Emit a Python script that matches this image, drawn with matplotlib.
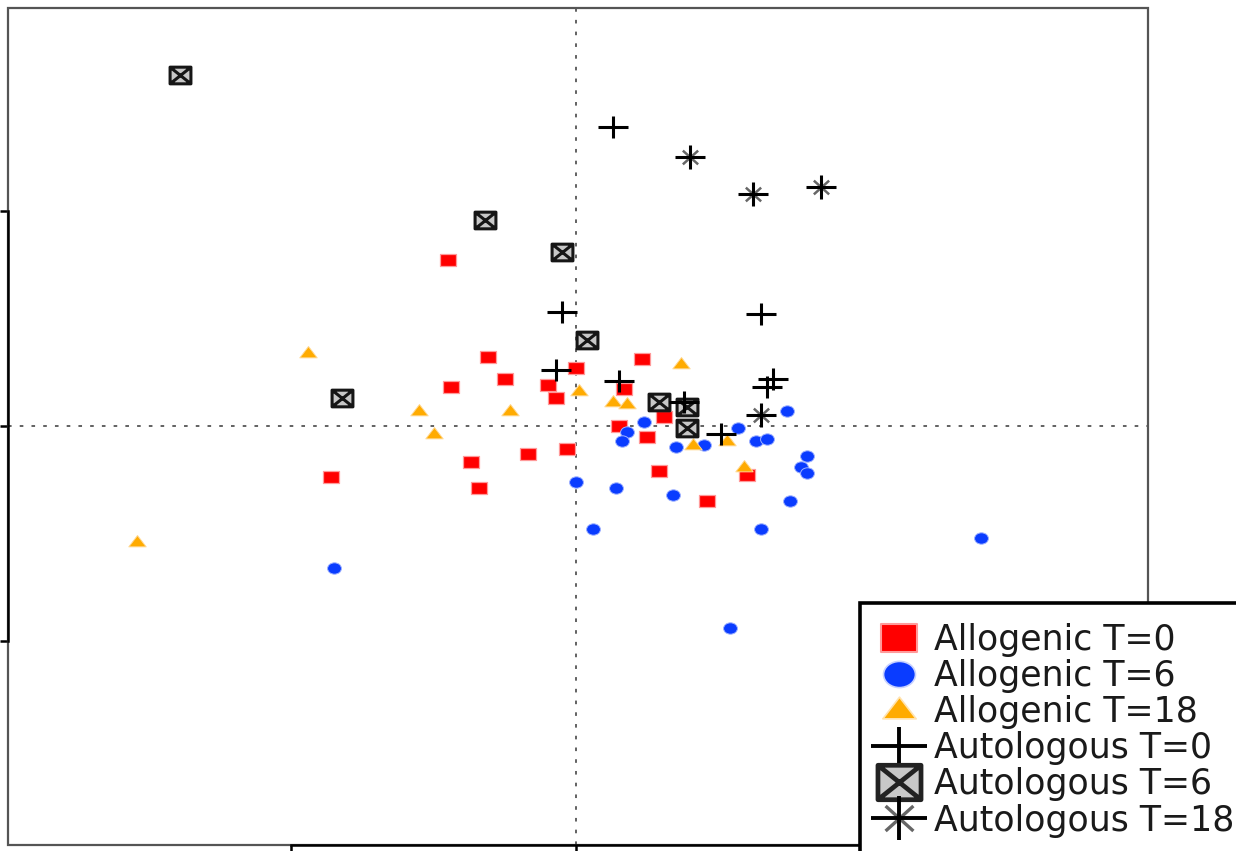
import matplotlib
matplotlib.use('Agg')
import matplotlib.pyplot as plt
from matplotlib.path import Path
from matplotlib.lines import Line2D
from matplotlib.patches import Rectangle
from matplotlib.transforms import Affine2D
from matplotlib.legend_handler import HandlerTuple

plt.rcParams['font.family'] = ['DejaVu Sans']

# ordination scores, axis 1 / axis 2
allo_t0_x = [-0.45, -0.31, -0.44, -0.25, -0.10, -0.07, -0.00, 0.23, 0.17, 0.31,
             0.25, 0.15, -0.03, -0.17, -0.37, -0.34, -0.86, 0.29, 0.60, 0.46]
allo_t0_y = [0.77, 0.32, 0.18, 0.22, 0.19, 0.13, 0.27, 0.31, 0.17, 0.04,
             -0.05, 0.00, -0.11, -0.13, -0.17, -0.29, -0.24, -0.21, -0.23, -0.35]

allo_t6_x = [0.24, 0.18, 0.16, 0.35, 0.45, 0.57, 0.63, 0.67, 0.74, 0.81, 0.79,
             0.81, -0.00, 0.14, 0.34, 0.75, 0.65, 0.06, -0.85, 0.54, 1.42]
allo_t6_y = [0.02, -0.03, -0.07, -0.10, -0.09, -0.01, -0.07, -0.06, 0.07, -0.14, -0.19,
             -0.22, -0.26, -0.29, -0.32, -0.35, -0.48, -0.48, -0.66, -0.94, -0.52]

allo_t18_x = [-0.94, -0.55, -0.50, -0.23, 0.01, 0.13, 0.18, 0.37, 0.41, 0.53, 0.59, -1.54]
allo_t18_y = [0.34, 0.07, -0.04, 0.07, 0.16, 0.11, 0.10, 0.29, -0.09, -0.07, -0.19, -0.54]

auto_t0_x = [0.13, -0.05, 0.65, -0.07, 0.15, 0.38, 0.51, 0.69, 0.67]
auto_t0_y = [1.39, 0.53, 0.52, 0.26, 0.21, 0.11, -0.04, 0.22, 0.18]

auto_t6_x = [-1.39, -0.32, -0.05, 0.04, -0.82, 0.29, 0.39, 0.39]
auto_t6_y = [1.63, 0.96, 0.81, 0.40, 0.13, 0.11, 0.09, -0.01]

auto_t18_x = [0.40, 0.62, 0.86, 0.65]
auto_t18_y = [1.25, 1.08, 1.11, 0.05]

labels = ['Allogenic T=0', 'Allogenic T=6', 'Allogenic T=18',
          'Autologous T=0', 'Autologous T=6', 'Autologous T=18']

# marker shapes (slightly wider than tall)
M = Path.MOVETO
L = Path.LINETO
C = Path.CLOSEPOLY
rect = Path([(-1, -0.8), (1, -0.8), (1, 0.8), (-1, 0.8), (-1, -0.8)], [M, L, L, L, C])
ellipse = Path.unit_circle().transformed(Affine2D().scale(1, 0.82))
tri = Path([(-1, -0.5), (1, -0.5), (0, 0.8), (-1, -0.5)], [M, L, L, C])
plus = Path([(-1, 0), (1, 0), (0, -0.7), (0, 0.7)], [M, L, M, L])
boxx = Path([(-1, -0.8), (1, -0.8), (1, 0.8), (-1, 0.8), (-1, -0.8),
             (-1, -0.8), (1, 0.8), (-1, 0.8), (1, -0.8)],
            [M, L, L, L, C, M, L, M, L])
star_main = Path([(-1, 0), (1, 0), (0, -0.8), (0, 0.8)], [M, L, M, L])
star_diag = Path([(-0.5, -0.45), (0.5, 0.45), (-0.5, 0.45), (0.5, -0.45),
                  (-1, 0), (-1, 0)], [M, L, M, L, M, L])

red = '#ff0000'
blue = '#0a3cff'
orange = '#ffab00'

fig = plt.figure(figsize=(12.36, 8.51), dpi=100)
ax = fig.add_axes([8 / 1236, 6 / 851, 1140 / 1236, 837 / 851])

ax.axhline(0, color='#555555', lw=1.3, dashes=(2, 4.5), zorder=1)
ax.axvline(0, color='#555555', lw=1.3, dashes=(2, 4.5), zorder=1)

ax.plot(allo_t0_x, allo_t0_y, ls='none', marker=rect, ms=11,
        mfc=red, mec='#ff9a9a', mew=0.9, zorder=3)
ax.plot(allo_t6_x, allo_t6_y, ls='none', marker=ellipse, ms=10,
        mfc=blue, mec='#9fb2ff', mew=0.7, zorder=3)
ax.plot(allo_t18_x, allo_t18_y, ls='none', marker=tri, ms=12.5,
        mfc=orange, mec='#ffd890', mew=0.7, zorder=3)
ax.plot(auto_t6_x, auto_t6_y, ls='none', marker=boxx, ms=15,
        mfc='#c8c8c8', mec='#161616', mew=2.2, zorder=4)
ax.plot(auto_t0_x, auto_t0_y, ls='none', marker=plus, ms=22,
        mec='black', mew=2.2, zorder=5)
ax.plot(auto_t18_x, auto_t18_y, ls='none', marker=star_diag, ms=22,
        mec='#666666', mew=1.8, zorder=5)
ax.plot(auto_t18_x, auto_t18_y, ls='none', marker=star_main, ms=22,
        mec='black', mew=2.2, zorder=6)

ax.set_xlim(-1.993, 2.007)
ax.set_ylim(-1.95, 1.944)

# grey box with black axis lines between the outer ticks
for s in ax.spines.values():
    s.set_visible(False)
ax.add_patch(Rectangle((0, 0), 1, 1, transform=ax.transAxes, fill=False,
                       ec='#555555', lw=1.6, clip_on=False, zorder=2))
ax.spines['left'].set_visible(True)
ax.spines['bottom'].set_visible(True)
ax.spines['left'].set_bounds(-1, 1)
ax.spines['bottom'].set_bounds(-1, 1)
ax.spines['left'].set_linewidth(1.8)
ax.spines['bottom'].set_linewidth(1.8)
ax.set_xticks([-1, 0, 1])
ax.set_yticks([-1, 0, 1])
ax.tick_params(direction='out', length=6, width=1.8, color='black',
               labelleft=False, labelbottom=False)

handles = [
    Line2D([], [], ls='none', marker=rect, ms=26, mfc=red, mec='#ff9a9a', mew=1.5),
    Line2D([], [], ls='none', marker=ellipse, ms=23, mfc=blue, mec='#c8d2ff', mew=1.2),
    Line2D([], [], ls='none', marker=tri, ms=24, mfc=orange, mec='#ffe3b0', mew=1.2),
    Line2D([], [], ls='none', marker=plus, ms=40, mec='black', mew=2.8),
    Line2D([], [], ls='none', marker=boxx, ms=31, mfc='#c8c8c8', mec='#222222', mew=3.4),
    (Line2D([], [], ls='none', marker=star_diag, ms=40, mec='#666666', mew=2.4),
     Line2D([], [], ls='none', marker=star_main, ms=40, mec='black', mew=2.8)),
]

leg = fig.legend(handles, labels, loc='upper left',
                 bbox_to_anchor=(860 / 1236, 1 - 603 / 851),
                 bbox_transform=fig.transFigure, borderaxespad=0,
                 fontsize=25, borderpad=0.58, handlelength=1.1,
                 handletextpad=0.45, labelspacing=0.06,
                 handler_map={tuple: HandlerTuple(ndivide=1, pad=0)},
                 fancybox=False, framealpha=1, edgecolor='black')
leg.get_frame().set_linewidth(2.6)
for t in leg.get_texts():
    t.set_color('#1a1a1a')

fig.savefig('out.png', dpi=100)
